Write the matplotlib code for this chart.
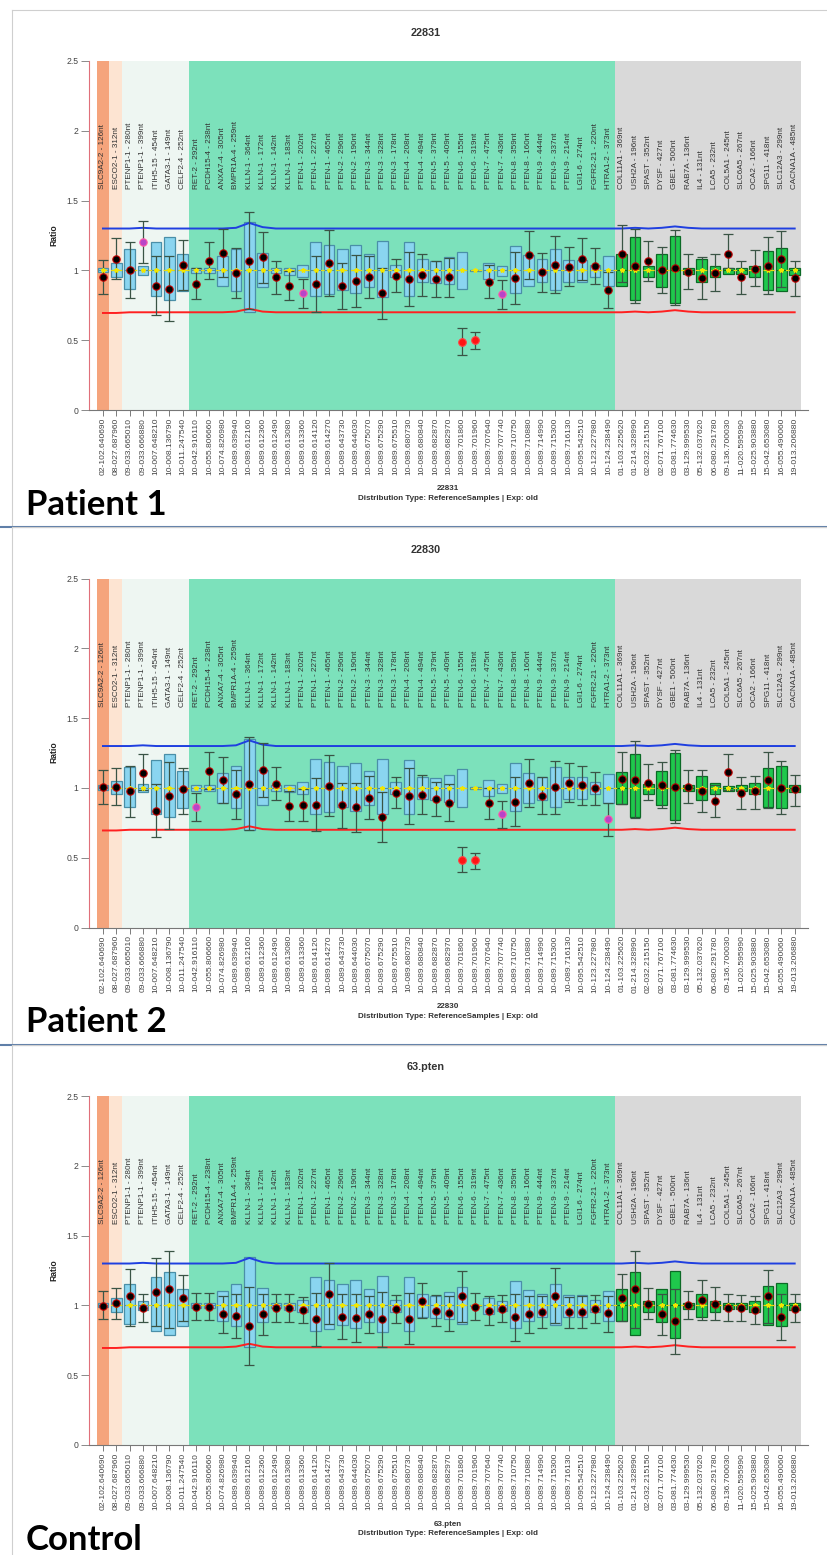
import matplotlib.pyplot as plt
import numpy as np

plt.rcParams['font.family'] = ['Liberation Sans', 'DejaVu Sans']

probes = ["SLC9A2-2 - 126nt", "ESCO2-1 - 312nt", "PTENP1-1 - 280nt", "PTENP1-1 - 399nt",
          "ITIH5-15 - 454nt", "GATA3-1 - 149nt", "CELF2-4 - 252nt", "RET-2 - 292nt",
          "PCDH15-4 - 238nt", "ANXA7-4 - 305nt", "BMPR1A-4 - 259nt", "KLLN-1 - 364nt",
          "KLLN-1 - 172nt", "KLLN-1 - 142nt", "KLLN-1 - 183nt", "PTEN-1 - 202nt",
          "PTEN-1 - 227nt", "PTEN-1 - 465nt", "PTEN-2 - 296nt", "PTEN-2 - 190nt",
          "PTEN-3 - 344nt", "PTEN-3 - 328nt", "PTEN-3 - 178nt", "PTEN-4 - 208nt",
          "PTEN-4 - 494nt", "PTEN-5 - 379nt", "PTEN-5 - 409nt", "PTEN-6 - 155nt",
          "PTEN-6 - 319nt", "PTEN-7 - 475nt", "PTEN-7 - 436nt", "PTEN-8 - 359nt",
          "PTEN-8 - 160nt", "PTEN-9 - 444nt", "PTEN-9 - 337nt", "PTEN-9 - 214nt",
          "LGI1-6 - 274nt", "FGFR2-21 - 220nt", "HTRA1-2 - 373nt", "COL11A1 - 369nt",
          "USH2A - 196nt", "SPAST - 352nt", "DYSF - 427nt", "GBE1 - 500nt",
          "RAB7A - 136nt", "IL4 - 131nt", "LCA5 - 232nt", "COL5A1 - 245nt",
          "SLC6A5 - 267nt", "OCA2 - 166nt", "SPG11 - 418nt", "SLC12A3 - 299nt",
          "CACNA1A - 485nt"]

positions = ["02-102.640690", "08-027.687960", "09-033.665010", "09-033.666880",
             "10-007.648210", "10-008.136790", "10-011.247540", "10-042.916110",
             "10-055.806660", "10-074.826980", "10-089.639940", "10-089.612160",
             "10-089.612360", "10-089.612490", "10-089.613080", "10-089.613360",
             "10-089.614120", "10-089.614270", "10-089.643730", "10-089.644030",
             "10-089.675070", "10-089.675290", "10-089.675510", "10-089.680730",
             "10-089.680840", "10-089.682870", "10-089.682970", "10-089.701860",
             "10-089.701960", "10-089.707640", "10-089.707740", "10-089.710750",
             "10-089.710880", "10-089.714990", "10-089.715300", "10-089.716130",
             "10-095.542510", "10-123.227980", "10-124.238490", "01-103.225620",
             "01-214.328990", "02-032.215150", "02-071.767100", "03-081.774630",
             "03-129.999530", "05-132.037620", "06-080.291780", "09-136.700030",
             "11-020.595990", "15-025.903880", "15-042.653080", "16-055.490060",
             "19-013.206880"]

# reference distribution (boxes), same for every sample
box_lo = [0.985, 0.955, 0.865, 0.97, 0.815, 0.79, 0.855, 0.98, 0.98, 0.89,
          0.855, 0.70, 0.88, 0.98, 0.97, 0.955, 0.815, 0.83, 0.86, 0.835,
          0.88, 0.81, 0.955, 0.815, 0.92, 0.91, 0.90, 0.865, 0.995, 0.94,
          0.96, 0.835, 0.89, 0.915, 0.86, 0.92, 0.92, 0.955, 0.89, 0.885,
          0.79, 0.955, 0.88, 0.77, 0.975, 0.915, 0.955, 0.975, 0.975, 0.955,
          0.86, 0.855, 0.97]
box_hi = [1.02, 1.05, 1.15, 1.03, 1.20, 1.24, 1.12, 1.02, 1.02, 1.105,
          1.155, 1.35, 1.125, 1.02, 1.02, 1.04, 1.205, 1.185, 1.155, 1.18,
          1.12, 1.21, 1.04, 1.20, 1.08, 1.07, 1.095, 1.135, 1.005, 1.055,
          1.03, 1.175, 1.11, 1.08, 1.15, 1.075, 1.075, 1.04, 1.10, 1.115,
          1.24, 1.03, 1.12, 1.25, 1.02, 1.085, 1.035, 1.015, 1.02, 1.035,
          1.14, 1.16, 1.02]
ref_median = [1.0, 1.0, 1.0, 1.0, 1.0, 1.0, 1.0, 1.0, 1.0, 1.0,
              1.0, 1.0, 1.0, 1.0, 1.0, 1.0, 1.0, 1.0, 1.0, 1.0,
              1.0, 1.0, 1.0, 1.0, 1.0, 1.0, 1.0, 1.0, 1.0, 1.0,
              1.0, 1.0, 1.0, 1.0, 1.0, 1.0, 1.0, 1.0, 1.0, 1.0,
              1.0, 1.0, 1.0, 1.0, 1.0, 1.0, 1.0, 1.0, 1.0, 1.0,
              1.0, 1.0, 1.0]
upper_limit = [1.30, 1.30, 1.30, 1.305, 1.30, 1.30, 1.30, 1.30, 1.30, 1.30,
               1.305, 1.34, 1.31, 1.30, 1.30, 1.30, 1.30, 1.30, 1.30, 1.30,
               1.30, 1.30, 1.30, 1.30, 1.30, 1.30, 1.30, 1.30, 1.30, 1.30,
               1.30, 1.30, 1.30, 1.30, 1.30, 1.30, 1.30, 1.30, 1.30, 1.30,
               1.305, 1.30, 1.305, 1.315, 1.305, 1.30, 1.30, 1.30, 1.30, 1.30,
               1.30, 1.30, 1.30]
lower_limit = [0.695, 0.695, 0.70, 0.70, 0.70, 0.70, 0.70, 0.70, 0.70, 0.70,
               0.705, 0.725, 0.705, 0.70, 0.70, 0.70, 0.70, 0.70, 0.70, 0.70,
               0.70, 0.70, 0.70, 0.70, 0.70, 0.70, 0.70, 0.70, 0.70, 0.70,
               0.70, 0.70, 0.70, 0.70, 0.70, 0.70, 0.70, 0.70, 0.70, 0.70,
               0.705, 0.70, 0.705, 0.715, 0.705, 0.70, 0.70, 0.70, 0.70, 0.70,
               0.70, 0.70, 0.70]

# Patient 1 (22831)
p1_ratio = [0.95, 1.08, 1.00, 1.205, 0.89, 0.87, 1.04, 0.905, 1.065, 1.125,
            0.98, 1.07, 1.095, 0.95, 0.89, 0.835, 0.90, 1.055, 0.885, 0.925,
            0.955, 0.835, 0.96, 0.94, 0.965, 0.94, 0.95, 0.49, 0.50, 0.92,
            0.83, 0.945, 1.11, 0.985, 1.04, 1.025, 1.08, 1.03, 0.86, 1.12,
            1.03, 1.065, 1.00, 1.02, 0.99, 0.945, 0.98, 1.12, 0.95, 1.01,
            1.03, 1.08, 0.945]
p1_lo = [0.83, 0.935, 0.80, 1.05, 0.68, 0.64, 0.86, 0.795, 0.935, 0.955,
         0.80, 0.72, 0.91, 0.83, 0.785, 0.73, 0.70, 0.82, 0.72, 0.74,
         0.805, 0.65, 0.845, 0.745, 0.815, 0.81, 0.81, 0.395, 0.44, 0.80,
         0.72, 0.76, 0.935, 0.845, 0.84, 0.89, 0.93, 0.90, 0.73, 0.915,
         0.77, 0.925, 0.84, 0.755, 0.865, 0.795, 0.85, 1.02, 0.83, 0.89,
         0.83, 0.88, 0.82]
p1_hi = [1.075, 1.23, 1.20, 1.355, 1.10, 1.10, 1.22, 1.015, 1.20, 1.295,
         1.16, 1.42, 1.275, 1.07, 0.995, 0.94, 1.10, 1.29, 1.05, 1.11,
         1.105, 1.02, 1.085, 1.135, 1.115, 1.07, 1.09, 0.585, 0.56, 1.04,
         0.93, 1.13, 1.285, 1.125, 1.245, 1.17, 1.23, 1.16, 0.99, 1.325,
         1.30, 1.21, 1.17, 1.29, 1.115, 1.095, 1.115, 1.26, 1.07, 1.145,
         1.24, 1.28, 1.065]
p1_deleted = [27, 28]
p1_borderline = [3, 15, 30]

# Patient 2 (22830)
p2_ratio = [1.005, 1.01, 0.98, 1.11, 0.835, 0.945, 0.99, 0.865, 1.12, 1.055,
            0.955, 1.03, 1.125, 1.03, 0.87, 0.88, 0.88, 1.015, 0.875, 0.86,
            0.93, 0.79, 0.965, 0.94, 0.95, 0.92, 0.895, 0.485, 0.48, 0.89,
            0.81, 0.90, 1.035, 0.945, 1.005, 1.035, 1.02, 1.00, 0.775, 1.065,
            1.06, 1.035, 1.02, 1.005, 1.005, 0.975, 0.905, 1.115, 0.965, 0.975,
            1.055, 1.00, 0.99]
p2_lo = [0.885, 0.88, 0.79, 0.985, 0.645, 0.705, 0.815, 0.76, 0.99, 0.89,
         0.78, 0.695, 0.935, 0.91, 0.765, 0.765, 0.69, 0.80, 0.715, 0.685,
         0.775, 0.61, 0.855, 0.74, 0.81, 0.80, 0.76, 0.395, 0.42, 0.78,
         0.71, 0.725, 0.865, 0.815, 0.81, 0.90, 0.88, 0.88, 0.655, 0.885,
         0.785, 0.91, 0.855, 0.745, 0.89, 0.825, 0.79, 0.985, 0.85, 0.85,
         0.855, 0.81, 0.87]
p2_hi = [1.125, 1.145, 1.155, 1.24, 1.025, 1.185, 1.145, 0.96, 1.255, 1.22,
         1.13, 1.365, 1.32, 1.15, 0.975, 0.99, 1.07, 1.235, 1.035, 1.035,
         1.085, 0.97, 1.075, 1.14, 1.09, 1.04, 1.03, 0.575, 0.535, 1.00,
         0.905, 1.075, 1.205, 1.075, 1.195, 1.18, 1.155, 1.115, 0.895, 1.255,
         1.335, 1.17, 1.185, 1.27, 1.125, 1.125, 1.02, 1.245, 1.075, 1.085,
         1.255, 1.195, 1.095]
p2_deleted = [27, 28]
p2_borderline = [7, 30, 38]

# Control (63.pten)
c_ratio = [0.995, 1.015, 1.07, 0.98, 1.095, 1.115, 1.05, 0.99, 0.99, 0.94,
           0.925, 0.855, 0.935, 0.98, 0.98, 0.97, 0.90, 1.085, 0.92, 0.91,
           0.935, 0.90, 0.975, 0.905, 1.03, 0.96, 0.945, 1.065, 0.99, 0.96,
           0.975, 0.915, 0.94, 0.95, 1.07, 0.95, 0.95, 0.975, 0.945, 1.055,
           1.115, 1.01, 0.935, 0.885, 1.00, 1.04, 1.01, 0.98, 0.98, 0.97,
           1.065, 0.92, 0.975]
c_lo = [0.90, 0.90, 0.855, 0.88, 0.85, 0.84, 0.885, 0.895, 0.895, 0.805,
        0.765, 0.575, 0.79, 0.88, 0.88, 0.875, 0.71, 0.865, 0.76, 0.74,
        0.80, 0.705, 0.875, 0.72, 0.91, 0.85, 0.82, 0.88, 0.895, 0.86,
        0.88, 0.745, 0.805, 0.835, 0.875, 0.84, 0.835, 0.875, 0.81, 0.885,
        0.84, 0.90, 0.785, 0.655, 0.90, 0.895, 0.895, 0.885, 0.885, 0.87,
        0.875, 0.755, 0.88]
c_hi = [1.10, 1.125, 1.26, 1.08, 1.34, 1.39, 1.22, 1.09, 1.09, 1.07,
        1.08, 1.135, 1.08, 1.085, 1.08, 1.06, 1.09, 1.305, 1.08, 1.085,
        1.07, 1.095, 1.075, 1.09, 1.16, 1.075, 1.07, 1.25, 1.09, 1.065,
        1.075, 1.085, 1.07, 1.065, 1.265, 1.06, 1.065, 1.075, 1.07, 1.225,
        1.39, 1.125, 1.08, 1.115, 1.105, 1.185, 1.13, 1.08, 1.075, 1.07,
        1.255, 1.085, 1.08]
c_deleted = []
c_borderline = []

samples = [
    ("22831", "Patient 1", p1_ratio, p1_lo, p1_hi, p1_deleted, p1_borderline),
    ("22830", "Patient 2", p2_ratio, p2_lo, p2_hi, p2_deleted, p2_borderline),
    ("63.pten", "Control", c_ratio, c_lo, c_hi, c_deleted, c_borderline),
]

# background regions (probe index spans)
band_edges = [-0.45, 0.45, 1.4, 6.5, 38.5, 52.5]
band_colors = ["#f5a47c", "#fde4d2", "#eef6f2", "#7ce1bb", "#d9d9d9"]
n_blue = 39  # first probes drawn with blue boxes, the rest green

W, H = 828, 1555
fig = plt.figure(figsize=(W / 100, H / 100), dpi=100)
x = np.arange(len(probes))


def fx(px):
    return px / W


def fy(py):
    return 1 - py / H


for k, (title, tag, ratio, lo, hi, deleted, borderline) in enumerate(samples):
    dy = 517.5 * k
    ax = fig.add_axes([fx(89), fy(410 + dy), fx(808 - 89), (410 - 61) / H])
    ax.set_xlim(-1.05, 53.0)
    ax.set_ylim(0, 2.5)

    for j in range(len(band_colors)):
        ax.axvspan(band_edges[j], band_edges[j + 1], color=band_colors[j], lw=0, zorder=0)

    # reference boxes
    heights = np.array(box_hi) - np.array(box_lo)
    ax.bar(x[:n_blue], heights[:n_blue], bottom=box_lo[:n_blue], width=0.8,
           color="#8ad5f0", edgecolor="#4a8fa8", linewidth=0.9, zorder=3)
    ax.bar(x[n_blue:], heights[n_blue:], bottom=box_lo[n_blue:], width=0.8,
           color="#1fc84c", edgecolor="#0c6a26", linewidth=0.9, zorder=3)
    ax.hlines(ref_median[:n_blue], x[:n_blue] - 0.4, x[:n_blue] + 0.4,
              color="#4a8fa8", lw=0.8, zorder=3.5)
    ax.hlines(ref_median[n_blue:], x[n_blue:] - 0.4, x[n_blue:] + 0.4,
              color="#0c6a26", lw=0.8, zorder=3.5)

    # limits and median
    ax.plot(x, upper_limit, color="#1f3fe0", lw=1.4, zorder=4)
    ax.plot(x, lower_limit, color="#ff2020", lw=1.4, zorder=4)
    ax.plot(x, ref_median, color="#e6dc10", lw=0.9, ls=(0, (3, 3)), zorder=4)

    # sample ratios with confidence whiskers
    ratio = np.array(ratio)
    yerr = [ratio - np.array(lo), np.array(hi) - ratio]
    ax.errorbar(x, ratio, yerr=yerr, fmt="none", ecolor="#3a5445", elinewidth=0.9,
                capsize=3.8, capthick=0.9, zorder=5)
    ax.plot(x, ref_median, ls="none", marker="*", ms=3.2, color="#f2e600", zorder=6)

    normal = [i for i in x if i not in deleted and i not in borderline]
    ax.plot(x[normal], ratio[normal], ls="none", marker="o", ms=5.3,
            mfc="black", mec="#c00000", mew=0.8, zorder=7)
    if deleted:
        ax.plot(x[deleted], ratio[deleted], ls="none", marker="o", ms=5.5,
                mfc="#ff1414", mec="#ff4444", mew=0.8, zorder=7)
    if borderline:
        ax.plot(x[borderline], ratio[borderline], ls="none", marker="o", ms=5.3,
                mfc="#b844c8", mec="#ff5aa8", mew=0.8, zorder=7)

    # probe names
    for i, name in enumerate(probes):
        ax.text(i, 1.58, name, rotation=90, ha="center", va="bottom",
                fontsize=5.9, color="#333333", zorder=8)

    ax.set_xticks(x)
    ax.set_xticklabels(positions, rotation=90, fontsize=6.1, color="#444444")
    ax.set_yticks([0, 0.5, 1, 1.5, 2, 2.5])
    ax.set_yticklabels(["0", "0.5", "1", "1.5", "2", "2.5"], fontsize=6.2, color="#444444")
    ax.tick_params(axis="x", length=4, width=0.6, color="#666666", pad=1.5)
    ax.tick_params(axis="y", length=6, width=0.6, color="#777777", pad=1.5)
    for side in ["top", "right"]:
        ax.spines[side].set_visible(False)
    ax.spines["left"].set_color("#e0707a")
    ax.spines["left"].set_linewidth(0.8)
    ax.spines["bottom"].set_color("#777777")
    ax.spines["bottom"].set_linewidth(0.8)

    fig.text(fx(54), fy(235 + dy), "Ratio", rotation=90, ha="center", va="center",
             fontsize=6.2, fontweight="bold", color="#222222")
    fig.text(fx(426), fy(32.5 + dy), title, ha="center", va="center",
             fontsize=7.8, fontweight="bold", color="#333333")
    fig.text(fx(448), fy(489 + dy), title, ha="center", va="center",
             fontsize=5.8, fontweight="bold", color="#333333")
    fig.text(fx(448), fy(498.5 + dy), "Distribution Type: ReferenceSamples | Exp: old",
             ha="center", va="center", fontsize=5.8, fontweight="bold", color="#333333")
    fig.text(fx(26), fy(515 + dy), tag, ha="left", va="baseline", fontsize=25,
             fontweight="bold", family=["Lato", "DejaVu Sans"], color="black")

    # screenshot frame and separator
    fig.add_artist(plt.Line2D([fx(12.5), fx(12.5)], [fy(9.6 + dy), fy(527 + dy)],
                              color="#cfcfcf", lw=0.8))
    fig.add_artist(plt.Line2D([fx(12.5), 1], [fy(9.6 + dy), fy(9.6 + dy)],
                              color="#cfcfcf", lw=0.8))
    if k < 2:
        fig.add_artist(plt.Line2D([0, 1], [fy(527 + dy), fy(527 + dy)],
                                  color="#5f7fa8", lw=1.5))

fig.savefig("out.png", dpi=100)
